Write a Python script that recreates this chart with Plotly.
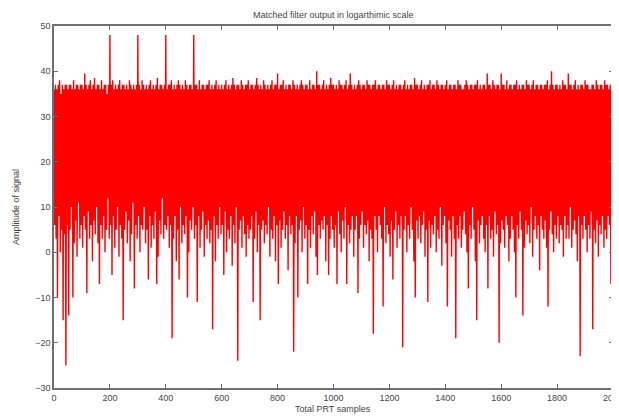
import plotly.graph_objects as go

# Matched filter output (dB); one value every 2.5 samples
amplitude_rows = [
    [36, 6, 37, 3, 36, -10, 37, 8, 38, 0, 35, 5, 37, -15, 36, 4, 37, -25, 37, 6],
    [36, -14, 37, 5, 37, 10, 36, -10, 38, 2, 36, 7, 37, -1, 37, 11, 36, 3, 37, 6],
    [37, 1, 36, 8, 39.5, 5, 37, -9, 36, 9, 37, 3, 38, 6, 36, -2, 37, 7, 38.5, 4],
    [36, 10, 37, 2, 37, -7, 36, 6, 38, 3, 36, 8, 37, 0, 37, 5, 35, 12, 37, 3],
    [48, 6, 37, -5, 38, 8, 36, 1, 37, 5, 36, 10, 37, -1, 38, 6, 36, 3, 37, -15],
    [37, 5, 36, 9, 37, 2, 36, 7, 38, -2, 37, 4, 36, 11, 37, -8, 36, 6, 37, 3],
    [48, 8, 37, 0, 36, 6, 38, 5, 37, 10, 36, 2, 37, 5, 36, -6, 37, 8, 38, 1],
    [36, 6, 37, 3, 36, 9, 37, -7, 38.5, -1, 36, 7, 37, 4, 37, 12, 36, 3, 37, 6],
    [48, 5, 36, 8, 37, 1, 37, 6, 38, -19, 36, 3, 37, 8, 36, -2, 37, 5, 38, -6],
    [37, 10, 36, 2, 37, 6, 36, 4, 38, 8, 37, -10, 36, 0, 37, 7, 37, 5, 36, 10],
    [48, 3, 37, 6, 37, -11, 36, 8, 38, 1, 36, 5, 37, 9, 37, -1, 36, 6, 37, 3],
    [37, 7, 38, 2, 36, 5, 37, -17, 36, 8, 37, -2, 38, 6, 36, 3, 37, 10, 36, 4],
    [37, 6, 36, -5, 37, 9, 38, 0, 36, 5, 37, 3, 36, 8, 37, -3, 38.5, 6, 37, 2],
    [36, 10, 37, -24, 37, 5, 36, 7, 38, 1, 37, 8, 36, 4, 37, -1, 37, 6, 38, 3],
    [36, 5, 37, 8, 37, -11, 36, 3, 37, 9, 38.5, 0, 37, 6, 36, -15, 37, 5, 36, 7],
    [38, 2, 37, 6, 36, 4, 37, 10, 36, -1, 37, 5, 38, 3, 36, 8, 37, -2, 37, 6],
    [39.5, -7, 36, 7, 37, 1, 37, 5, 38, 9, 36, 3, 37, 6, 36, -4, 37, 8, 37, 4],
    [36, 6, 38, -22, 37, 2, 36, 8, 37, -10, 36, 5, 37, 7, 38, 0, 37, 10, 36, 3],
    [37, 6, 37, -7, 36, 5, 38, 1, 36, 8, 37, 4, 37, 9, 36, -1, 40, -5, 37, 6],
    [37, 3, 36, 7, 37, 5, 38, 8, 36, -2, 37, 6, 36, -5, 37, 3, 38.5, 8, 37, 5],
    [37, 1, 36, 6, 37, -7, 36, 9, 38, 4, 37, 0, 37, 7, 36, 3, 37, 10, 38, -7],
    [36, 6, 37, 2, 39.5, 5, 37, 8, 36, -1, 37, 5, 36, 8, 37, -9, 38, 3, 37, 6],
    [36, 9, 37, 1, 37, 6, 36, 4, 38, 7, 37, -2, 37, 5, 36, 3, 37, -18, 37, 8],
    [38, 5, 36, 0, 37, 8, 37, 6, 36, 3, 37, -12, 37, 10, 36, 2, 38, 6, 37, 4],
    [37, -1, 36, 7, 37, -6, 38, 5, 36, 9, 37, 1, 36, 6, 37, 3, 37, 8, 36, -21],
    [37, 5, 38, 8, 36, 0, 37, 6, 36, 3, 37, 10, 37, 5, 36, -2, 38.5, -10, 37, 7],
    [37, 3, 36, 8, 37, 2, 38, 6, 36, 9, 37, -1, 36, 5, 37, -11, 37, 7, 38, 1],
    [36, 6, 37, 4, 37, 8, 36, 0, 38, 5, 37, 3, 36, 10, 37, -3, 37, 6, 36, 8],
    [37, 2, 38, -12, 36, 7, 37, 5, 37, -1, 36, 8, 37, 3, 37, -19, 36, 6, 38, 3],
    [37, 8, 37, 1, 36, 5, 36, 9, 37, 4, 38, 0, 37, -8, 36, 6, 37, 3, 37, 10],
    [36, 5, 37, -2, 37, -15, 38, 7, 36, 2, 37, 6, 36, 8, 37, 3, 37, 0, 36, 6],
    [39.5, -8, 37, 8, 37, 3, 36, 5, 38, -1, 37, 9, 36, 4, 37, 6, 37, -20, 36, 2],
    [39.5, 7, 37, 5, 37, 1, 36, 8, 38, 6, 36, -2, 37, 3, 37, 8, 36, 5, 37, 0],
    [37, -10, 38, 6, 36, 3, 37, 9, 36, 5, 37, -14, 37, 1, 36, 7, 38, 4, 37, 6],
    [37, 2, 36, 10, 37, -1, 38, 5, 36, 8, 37, 3, 37, 6, 36, -4, 37, 8, 37, 5],
    [36, 3, 37, 7, 37, 1, 38, -12, 36, 5, 37, 9, 40, 4, 37, 0, 36, 6, 37, 3],
    [37, 8, 36, 2, 37, 6, 36, 5, 38, -1, 37, 8, 37, 3, 36, 6, 39.5, 3, 37, 10],
    [37, 1, 36, 5, 37, 7, 38, 4, 36, -2, 37, 8, 36, -23, 37, 6, 37, 3, 36, 8],
    [38, 5, 37, 0, 37, 6, 36, 3, 36, 9, 37, -17, 37, 5, 36, 2, 38, 7, 37, -1],
    [36, 6, 37, 4, 37, 8, 36, 1, 38, 5, 37, 3, 37, 8, 36, 6, 37, -7, 37, 5],
]
sample_step = 2.5
x_ticks = [0, 200, 400, 600, 800, 1000, 1200, 1400, 1600, 1800, 2000]
y_ticks = [-30, -20, -10, 0, 10, 20, 30, 40, 50]

amplitude = [v for row in amplitude_rows for v in row]
samples = [i * sample_step for i in range(len(amplitude))]

FONT = "Liberation Sans, Arial, Helvetica, sans-serif"
TXT = "#444444"

# The page body has an 8px margin, so the figure is shifted by that amount.
OFF = 8
W, H = 619 - OFF, 417 - OFF
L, R, T, B = 54 - OFF, 613 - OFF, 26 - OFF, 388 - OFF


def px(fx):
    return (fx - OFF - L) / (R - L)


def py(fy):
    return (B - (fy - OFF)) / (B - T)


fig = go.Figure(
    go.Scatter(
        x=samples,
        y=amplitude,
        mode="lines",
        line=dict(color="#ff0000", width=1.4, simplify=False),
        hoverinfo="skip",
        showlegend=False,
    )
)

axis_common = dict(
    showgrid=False,
    zeroline=False,
    showline=True,
    mirror="ticks",
    linecolor="#6e6e6e",
    linewidth=1.5,
    ticks="inside",
    ticklen=4,
    tickcolor="#6e6e6e",
    tickfont=dict(family=FONT, size=9, color=TXT),
    automargin=False,
)

fig.update_layout(
    width=W,
    height=H,
    margin=dict(l=L, r=W - R, t=T, b=H - B),
    paper_bgcolor="white",
    plot_bgcolor="white",
    font=dict(family=FONT, size=9, color=TXT),
    xaxis=dict(range=[0, 2000], tickvals=x_ticks, ticklabeloverflow="allow",
               **axis_common),
    yaxis=dict(range=[-30, 50], tickvals=y_ticks, **axis_common),
    annotations=[
        dict(text="Matched filter output in logarthimic scale",
             x=px(333), y=py(15), xref="paper", yref="paper",
             xanchor="center", yanchor="middle", showarrow=False,
             font=dict(family=FONT, size=9, color=TXT)),
        dict(text="Total PRT samples",
             x=px(333), y=py(409), xref="paper", yref="paper",
             xanchor="center", yanchor="middle", showarrow=False,
             font=dict(family=FONT, size=9, color=TXT)),
        dict(text="Amplitude of signal",
             x=px(16), y=py(207), xref="paper", yref="paper",
             xanchor="center", yanchor="middle", showarrow=False, textangle=-90,
             font=dict(family=FONT, size=9, color=TXT)),
    ],
)

fig.write_html("out.html")
